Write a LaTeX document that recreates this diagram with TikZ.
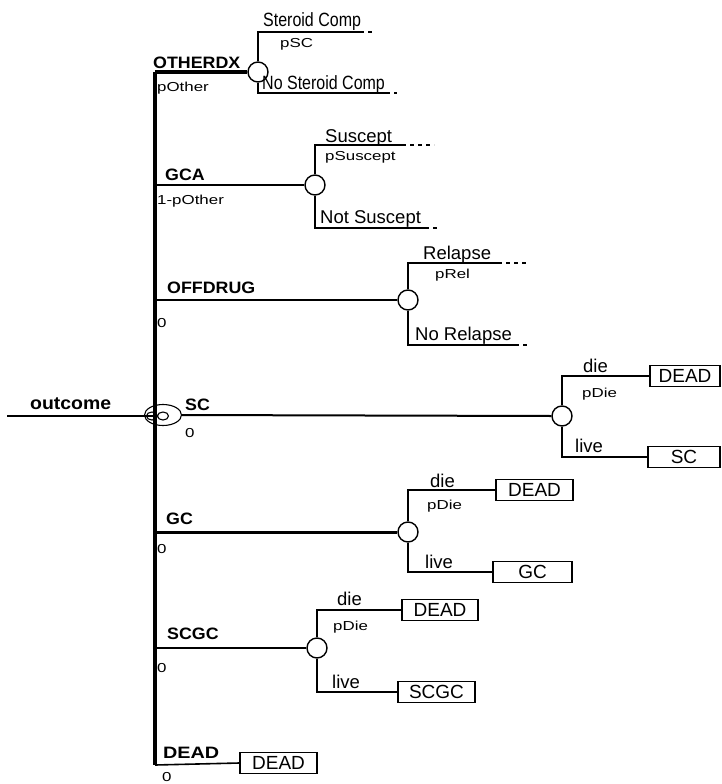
\documentclass[tikz,border=0pt]{standalone}
\usepackage{fontspec}
\setmainfont{Liberation Sans}
\usepackage{graphicx}
\usetikzlibrary{shapes.geometric}
\newcommand{\smtxt}[1]{\scalebox{1.3}[1]{\fontsize{13}{14}\selectfont #1}}
\newcommand{\bdtxt}[1]{\scalebox{1.08}[1]{\fontsize{16.5}{18}\selectfont\bfseries #1}}
\newcommand{\tallsm}[1]{\scalebox{1}[1.2]{\fontsize{16}{17}\selectfont #1}}
\begin{document}
\begin{tikzpicture}[x=1pt,y=-1pt,
  txt/.style={anchor=base west, inner sep=0pt, font=\fontsize{18.5}{20}\selectfont},
  lab/.style={anchor=base west, inner sep=0pt},
  chance/.style={circle, draw, line width=1.4pt, minimum size=20pt, inner sep=0pt, fill=white},
  term/.style={draw, line width=1.4pt, rectangle, minimum width=#1, minimum height=21pt, inner sep=0pt, font=\fontsize{19}{20}\selectfont},
  mainln/.style={line width=3.5pt},
  thickbr/.style={line width=3pt},
  medbr/.style={line width=2pt},
  subbr/.style={line width=1.6pt},
  dashend/.style={line width=1.2pt, dash pattern=on 4pt off 4pt}]
\useasboundingbox (0,0) rectangle (722,784);

% junctions on the main line
\coordinate (j1) at (155,72);
\coordinate (j2) at (155,185);
\coordinate (j3) at (155,300);
\coordinate (j4) at (155,416);
\coordinate (j5) at (155,532);
\coordinate (j6) at (155,648);
\coordinate (j7) at (155,765);
\coordinate (o0) at (7,416);

% chance nodes
\node[chance] (c1) at (258,72) {};
\node[chance] (c2) at (315,185) {};
\node[chance] (c3) at (408,300) {};
\node[chance] (c4) at (562,416) {};
\node[chance] (c5) at (408,532) {};
\node[chance] (c6) at (317,648) {};

% terminal boxes
\node[term=70pt] (b4a) at (685,376) {DEAD};
\node[term=72pt] (b4b) at (684,457) {SC};
\node[term=77pt] (b5a) at (534.5,490) {DEAD};
\node[term=79pt] (b5b) at (532.5,572) {GC};
\node[term=76pt] (b6a) at (440,610) {DEAD};
\node[term=77pt] (b6b) at (436.5,692) {SCGC};
\node[term=77pt] (b7) at (278.5,763) {DEAD};

% main structure
\draw[mainln] (j1) -- (j7);
\draw[line width=2pt] (o0) -- (j4);
\node[ellipse, draw, line width=1.1pt, minimum width=37pt, minimum height=21pt, inner sep=0pt] (mk) at (163,415) {};
\draw[line width=1.1pt] (152,416) ellipse [x radius=5.5, y radius=4];
\draw[line width=1.1pt] (163,416) ellipse [x radius=5.5, y radius=4];

% first-level branches
\draw[thickbr] (j1) -- (c1.west);
\draw[medbr] (j2) -- (c2.west);
\draw[medbr] (j3) -- (c3.west);
\draw[line width=2pt] (mk.east) -- (c4.west);
\draw[thickbr] (j5) -- (c5.west);
\draw[medbr] (j6) -- (c6.west);
\draw[line width=1.6pt] (j7) -- (b7.west);

% OTHERDX subtree
\coordinate (e1a) at (360,32);
\coordinate (e1b) at (386,93);
\draw[subbr] (c1.north) |- (e1a);
\draw[dashend] (e1a) -- ++(14,0);
\draw[subbr] (c1.south) |- (e1b);
\draw[dashend] (e1b) -- ++(11,0);

% GCA subtree
\coordinate (e2a) at (402,145);
\coordinate (e2b) at (425,228);
\draw[subbr] (c2.north) |- (e2a);
\draw[dashend] (e2a) -- ++(32,0);
\draw[subbr] (c2.south) |- (e2b);
\draw[dashend] (e2b) -- ++(12,0);

% OFFDRUG subtree
\coordinate (e3a) at (498,263);
\coordinate (e3b) at (515,345);
\draw[subbr] (c3.north) |- (e3a);
\draw[dashend] (e3a) -- ++(30,0);
\draw[subbr] (c3.south) |- (e3b);
\draw[dashend] (e3b) -- ++(14,0);

% SC subtree
\draw[line width=2pt] (c4.north) |- (b4a.west);
\draw[line width=2pt] (c4.south) |- (b4b.west);
% GC subtree
\draw[subbr] (c5.north) |- (b5a.west);
\draw[subbr] (c5.south) |- (b5b.west);
% SCGC subtree
\draw[subbr] (c6.north) |- (b6a.west);
\draw[subbr] (c6.south) |- (b6b.west);

% labels
\node[lab] (tout) at (30,409) {\scalebox{1.08}[1]{\fontsize{18}{20}\selectfont\bfseries outcome}};

\node[lab] (t1) at (153,69) {\bdtxt{OTHERDX}};
\node[lab] (p1) at (157,91) {\smtxt{pOther}};
\node[lab] (s1a) at (263,27) {\tallsm{Steroid Comp}};
\node[lab] (q1a) at (280,48) {\smtxt{pSC}};
\node[lab] (s1b) at (262,89) {\tallsm{No Steroid Comp}};

\node[lab] (t2) at (165,180) {\bdtxt{GCA}};
\node[lab] (p2) at (157,204) {\smtxt{1-pOther}};
\node[txt] (s2a) at (325,142) {Suscept};
\node[lab] (q2a) at (325,160) {\smtxt{pSuscept}};
\node[txt] (s2b) at (320,223) {Not Suscept};

\node[lab] (t3) at (167,293) {\bdtxt{OFFDRUG}};
\node[lab] (p3) at (157,327) {\smtxt{0}};
\node[txt] (s3a) at (423,259) {Relapse};
\node[lab] (q3a) at (435,278) {\smtxt{pRel}};
\node[txt] (s3b) at (415,340) {No Relapse};

\node[lab] (t4) at (185,410) {\bdtxt{SC}};
\node[lab] (p4) at (185,437) {\smtxt{0}};
\node[txt] (s4a) at (583,372) {die};
\node[lab] (q4a) at (582,397) {\smtxt{pDie}};
\node[txt] (s4b) at (575,452) {live};

\node[lab] (t5) at (166,524) {\bdtxt{GC}};
\node[lab] (p5) at (157,553) {\smtxt{0}};
\node[txt] (s5a) at (430,487) {die};
\node[lab] (q5a) at (427,509) {\smtxt{pDie}};
\node[txt] (s5b) at (425,568) {live};

\node[lab] (t6) at (167,639) {\bdtxt{SCGC}};
\node[lab] (p6) at (157,672) {\smtxt{0}};
\node[txt] (s6a) at (337,605) {die};
\node[lab] (q6a) at (333,630) {\smtxt{pDie}};
\node[txt] (s6b) at (332,688) {live};

\node[lab] (t7) at (163,758) {\scalebox{1.2}[1]{\fontsize{16.5}{18}\selectfont\bfseries DEAD}};
\node[lab] (p7) at (162,781) {\smtxt{0}};
\end{tikzpicture}
\end{document}
